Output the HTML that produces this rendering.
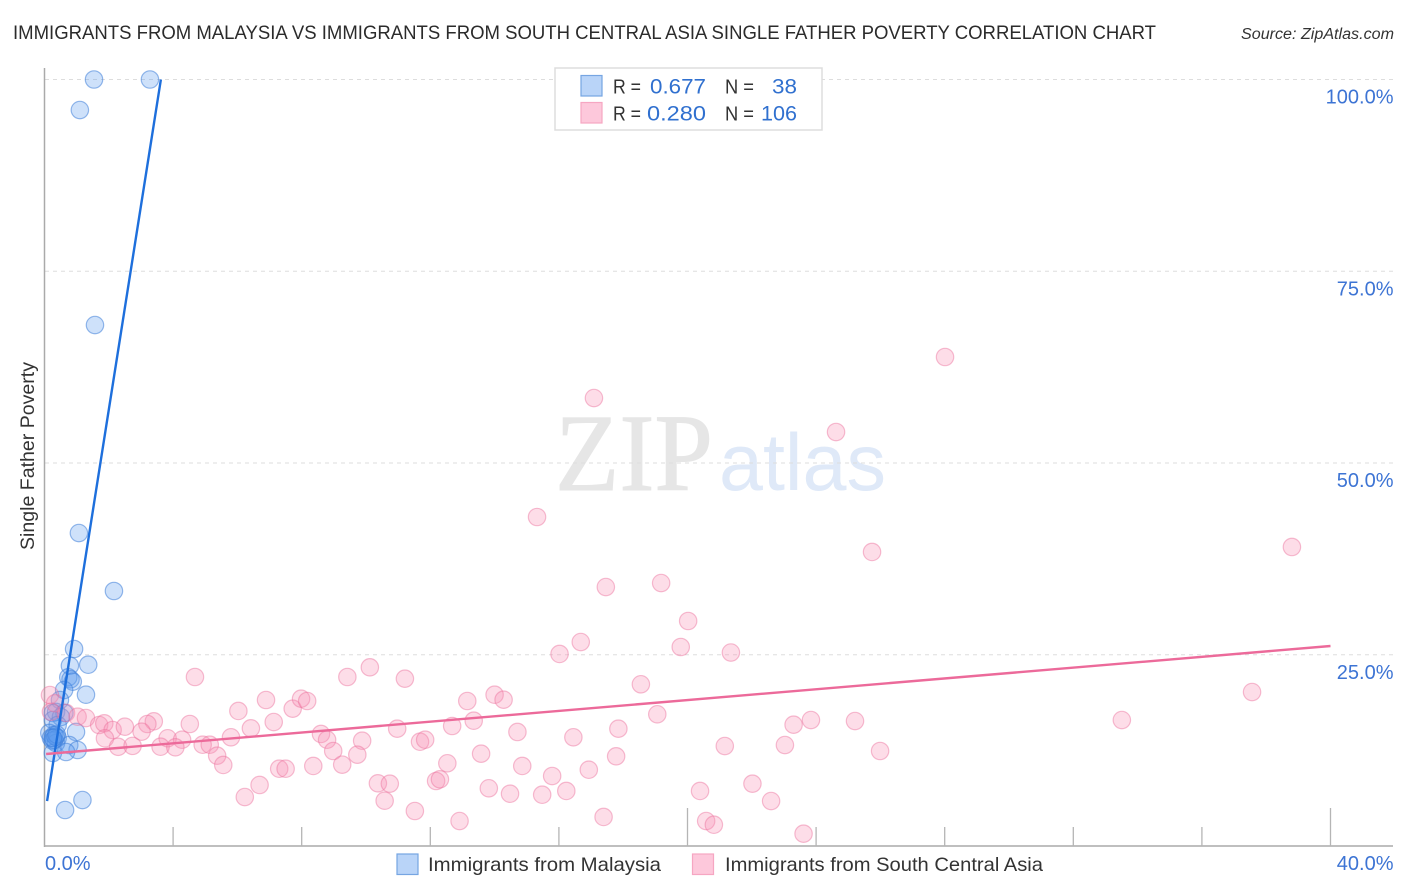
<!DOCTYPE html>
<html lang="en">
<head>
<meta charset="utf-8">
<title>Immigrants from Malaysia vs Immigrants from South Central Asia Single Father Poverty Correlation Chart</title>
<style>
html,body{margin:0;padding:0;background:#fff;width:1406px;height:892px;overflow:hidden}
svg{display:block}
text{font-family:"Liberation Sans",sans-serif}
</style>
</head>
<body>
<svg id="chart" xmlns="http://www.w3.org/2000/svg" width="1406" height="892" viewBox="0 0 1406 892">
  <rect x="0" y="0" width="1406" height="892" fill="#ffffff"/>
  <text x="555" y="490" font-size="110" textLength="158" lengthAdjust="spacingAndGlyphs" fill="#e6e6e6" stroke="#e6e6e6" stroke-width="1" style="font-family:'Liberation Serif',serif">ZIP</text>
  <text x="719" y="490" font-size="81" textLength="167" lengthAdjust="spacingAndGlyphs" fill="#dfe9f8">atlas</text>
  <g id="grid"></g>
  <g id="axes"></g>
  <g id="blue-points"></g>
  <g id="pink-points"></g>
  <g id="trends"></g>

  <text x="13" y="39" font-size="19.5" textLength="1143" lengthAdjust="spacingAndGlyphs" fill="#2b2b2b">IMMIGRANTS FROM MALAYSIA VS IMMIGRANTS FROM SOUTH CENTRAL ASIA SINGLE FATHER POVERTY CORRELATION CHART</text>
  <text x="1241" y="39" font-size="15.5" font-style="italic" textLength="153" lengthAdjust="spacingAndGlyphs" fill="#333333">Source: ZipAtlas.com</text>
  <text transform="translate(34,456) rotate(-90)" text-anchor="middle" font-size="19" textLength="188" lengthAdjust="spacingAndGlyphs" fill="#333333">Single Father Poverty</text>

  <g>
    <rect x="555" y="68" width="267" height="62" fill="#ffffff" stroke="#dddddd" stroke-width="1.5"/>
    <rect x="581" y="75.5" width="21" height="20.5" fill="#b9d4f8" stroke="#76a5e2" stroke-width="1.2"/>
    <rect x="581" y="102.5" width="21" height="20.5" fill="#fdc8db" stroke="#f6a6c2" stroke-width="1.2"/>
    <text x="613" y="93.5" font-size="20" textLength="28" lengthAdjust="spacingAndGlyphs" fill="#333333">R =</text>
    <text x="650" y="93.5" font-size="21.5" textLength="56" lengthAdjust="spacingAndGlyphs" fill="#3070cf">0.677</text>
    <text x="725" y="93.5" font-size="20" textLength="29" lengthAdjust="spacingAndGlyphs" fill="#333333">N =</text>
    <text x="772" y="93.5" font-size="21.5" textLength="25" lengthAdjust="spacingAndGlyphs" fill="#3070cf">38</text>
    <text x="613" y="120.5" font-size="20" textLength="28" lengthAdjust="spacingAndGlyphs" fill="#333333">R =</text>
    <text x="647" y="120.5" font-size="21.5" textLength="59" lengthAdjust="spacingAndGlyphs" fill="#3070cf">0.280</text>
    <text x="725" y="120.5" font-size="20" textLength="29" lengthAdjust="spacingAndGlyphs" fill="#333333">N =</text>
    <text x="761" y="120.5" font-size="21.5" textLength="36" lengthAdjust="spacingAndGlyphs" fill="#3070cf">106</text>
  </g>

  <g>
    <rect x="397" y="854" width="21" height="20.5" fill="#b9d4f8" stroke="#76a5e2" stroke-width="1.2"/>
    <text x="428" y="871" font-size="19.5" textLength="233" lengthAdjust="spacingAndGlyphs" fill="#333333">Immigrants from Malaysia</text>
    <rect x="692.5" y="854" width="21" height="20.5" fill="#fdc8db" stroke="#f6a6c2" stroke-width="1.2"/>
    <text x="725" y="871" font-size="19.5" textLength="318" lengthAdjust="spacingAndGlyphs" fill="#333333">Immigrants from South Central Asia</text>
  </g>
</svg>
<script>
// Chart data (x = immigrants share %, y = single father poverty %)
const malaysiaX = [1.54,3.28,1.10,1.57,1.07,2.16,0.92,1.36,0.79,0.74,0.81,0.88,0.61,1.29,0.48,0.64,1.18,0.36,0.26,0.62,0.51,0.26,0.41,0.98,0.15,0.30,0.20,0.41,0.25,0.36,0.77,1.03,0.67,0.26,0.30,0.35,0.38,0.26];
const malaysiaY = [100,100,96.02,67.99,40.87,33.31,25.75,23.70,23.57,22.06,21.80,21.49,20.40,19.79,19.10,4.76,6.06,17.54,17.41,17.41,16.88,16.49,15.84,14.93,14.80,14.54,14.15,14.15,13.80,13.49,13.23,12.58,12.32,12.19,13.90,14.30,14.60,14.15];
const asiaX = [4.68,6.03,6.89,7.72,7.98,8.17,9.42,10.12,11.21,4.52,3.40,3.20,3.02,6.42,7.13,5.80,8.60,8.79,9.88,10.97,11.68,11.84,8.98,9.73,9.26,8.36,3.83,4.28,3.61,4.07,4.92,5.14,5.37,5.56,7.30,7.50,6.69,6.23,10.37,10.74,10.58,11.52,13.15,14.00,14.28,18.55,12.68,13.35,14.71,19.06,17.85,16.45,12.53,13.58,17.78,14.86,16.93,15.79,12.18,12.30,13.82,14.48,15.48,16.23,12.91,17.39,16.02,16.68,19.79,21.35,23.30,23.84,25.21,21.16,23.03,25.99,20.39,22.02,22.60,20.58,20.82,23.61,28.01,17.09,24.62,15.32,25.74,38.80,19.18,17.46,20.02,37.56,33.51,0.17,0.33,0.20,0.67,1.03,1.29,1.70,1.86,2.12,1.88,2.50,2.29,2.74];
const asiaY = [22.10,17.67,19.10,17.97,19.27,18.97,22.10,23.36,21.88,15.97,16.32,15.97,14.97,15.41,16.23,14.24,14.67,13.92,13.79,15.36,13.66,13.92,12.45,11.97,10.67,10.50,14.11,13.92,13.01,12.93,13.27,13.27,11.84,10.63,10.14,10.14,8.02,6.45,8.24,8.19,5.97,4.63,18.97,19.79,19.14,21.15,15.71,16.40,14.93,17.24,15.36,14.24,10.85,12.10,11.76,10.50,10.01,9.19,8.54,8.76,7.59,6.88,6.75,7.24,3.32,3.85,25.10,26.66,26.01,25.29,15.88,16.49,16.36,13.10,13.23,12.45,7.24,8.19,5.93,3.32,2.84,1.67,63.82,58.47,54.04,42.96,38.40,39.05,34.35,33.83,29.40,20.14,16.49,19.75,18.67,17.57,17.41,16.92,16.75,15.84,16.06,15.19,14.10,15.62,13.00,13.12];
const malaysiaTrendX = [0.08,3.62];
const malaysiaTrendY = [5.93,100];
const asiaTrendX = [0.05,40];
const asiaTrendY = [12.06,26.14];
const yTicks = [25,50,75,100];
const yTickLabels = ["25.0%","50.0%","75.0%","100.0%"];
const xTicks = [4,8,12,16,20,24,28,32,36,40];
const xMajorTicks = [20,40];
const xEndLabels = ["0.0%","40.0%"];

const NS = "http://www.w3.org/2000/svg";
function xScale(v){ return 44.5 + v * 32.15; }
function yScale(v){ return 846.5 - v * 7.67; }
function make(tag, attrs, parent){
  const el = document.createElementNS(NS, tag);
  for (const k in attrs) el.setAttribute(k, attrs[k]);
  parent.appendChild(el);
  return el;
}

const grid = document.getElementById("grid");
const axes = document.getElementById("axes");
const trends = document.getElementById("trends");
const bluePts = document.getElementById("blue-points");
const pinkPts = document.getElementById("pink-points");

yTicks.forEach(function(t, i){
  const line = make("line", {x1:45, x2:1393, y1:yScale(t), y2:yScale(t), stroke:"#dddddd", "stroke-width":1, "stroke-dasharray":"4 4"}, grid);
  
  
  const label = make("text", {x:1393.5, y:yScale(t)+24, "text-anchor":"end", "font-size":"20", fill:"#3d74d4"}, axes);
  
  
  label.textContent = yTickLabels[i];
});

const yAxisLine = make("line", {x1:44.5, x2:44.5, y1:68, y2:847, stroke:"#aaaaaa", "stroke-width":1.5}, axes);


const xAxisLine = make("line", {x1:44, x2:1393, y1:846, y2:846, stroke:"#aaaaaa", "stroke-width":1.5}, axes);



xTicks.forEach(function(t){
  const top = xMajorTicks.indexOf(t) >= 0 ? 808 : 827;
  const tick = make("line", {x1:xScale(t), x2:xScale(t), y1:top, y2:846, stroke:"#b5b5b5", "stroke-width":1.3}, axes);
  
  
});

const xLabelLeft = make("text", {x:45, y:870, "font-size":"20", fill:"#3d74d4"}, axes);


xLabelLeft.textContent = xEndLabels[0];
const xLabelRight = make("text", {x:1393.5, y:870, "text-anchor":"end", "font-size":"20", fill:"#3d74d4"}, axes);


xLabelRight.textContent = xEndLabels[1];

malaysiaX.forEach(function(v, i){
  const c = make("circle", {cx:xScale(v), cy:yScale(malaysiaY[i]), r:8.7, fill:"#5d9cf0", "fill-opacity":0.3, stroke:"#3f80d8", "stroke-opacity":0.55, "stroke-width":1.2}, bluePts);
  
  
});
asiaX.forEach(function(v, i){
  const c = make("circle", {cx:xScale(v), cy:yScale(asiaY[i]), r:8.7, fill:"#f78fb3", "fill-opacity":0.3, stroke:"#ea6f9c", "stroke-opacity":0.45, "stroke-width":1.2}, pinkPts);
  
  
});

const blueTrend = make("line", {x1:xScale(malaysiaTrendX[0]), y1:yScale(malaysiaTrendY[0]), x2:xScale(malaysiaTrendX[1]), y2:yScale(malaysiaTrendY[1]), stroke:"#1e6fdc", "stroke-width":2.4}, trends);


const pinkTrend = make("line", {x1:xScale(asiaTrendX[0]), y1:yScale(asiaTrendY[0]), x2:xScale(asiaTrendX[1]), y2:yScale(asiaTrendY[1]), stroke:"#ec6a9a", "stroke-width":2.4}, trends);


</script>
</body>
</html>
